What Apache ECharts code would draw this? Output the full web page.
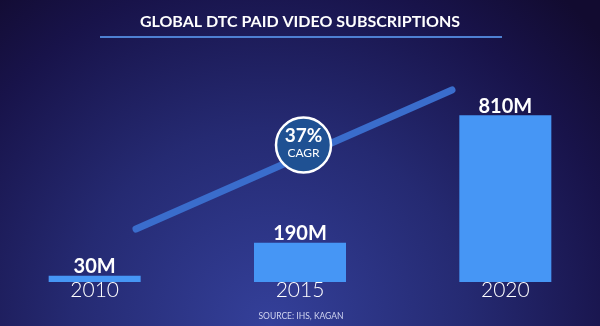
<!DOCTYPE html>
<html>
<head>
<meta charset="utf-8">
<script src="https://cdn.jsdelivr.net/npm/echarts@6/dist/echarts.min.js"></script>
<style>html,body{margin:0;padding:0;background:#130c30;}#c{width:600px;height:326px;}</style>
</head>
<body>
<div id="c"></div>
<script>
var titleText = 'GLOBAL DTC PAID VIDEO SUBSCRIPTIONS';
var categories = ['2010', '2015', '2020'];
var values = [30, 190, 810];
var valueLabels = ['30M', '190M', '810M'];
var cagrText = '37%';
var cagrSub = 'CAGR';
var sourceText = 'SOURCE: IHS, KAGAN';

var chart = echarts.init(document.getElementById('c'), null, {renderer: 'canvas'});
var FONT = 'Lato, "Noto Sans", sans-serif';
var option = {
  animation: false,
  backgroundColor: '#130c30',
  grid: {left: -8, width: 616, top: 76, bottom: 44, containLabel: false, outerBoundsMode: 'none'},
  xAxis: {
    type: 'category',
    data: categories,
    axisLine: {show: false},
    axisTick: {show: false},
    axisLabel: {color: '#ffffff', fontSize: 21, fontFamily: FONT, fontWeight: 300, margin: -2}
  },
  yAxis: {
    type: 'value', min: 0, max: 1000,
    show: false, splitLine: {show: false}
  },
  series: [{
    type: 'bar',
    data: values,
    barWidth: 92,
    itemStyle: {color: '#4696f5'},
    z: 5,
    label: {
      show: true, position: 'top', distance: -1,
      color: '#ffffff', fontSize: 20, fontWeight: 'bold', fontFamily: FONT,
      formatter: function (p) { return valueLabels[p.dataIndex]; }
    }
  }],
  graphic: [
    {type: 'rect', z: -100, silent: true, shape: {x: 0, y: 0, width: 600, height: 326},
     style: {fill: new echarts.graphic.RadialGradient(0.45, 1.0, 1.35, [
       {offset: 0, color: '#34409a'},
       {offset: 0.45, color: '#252a72'},
       {offset: 0.8, color: '#18134a'},
       {offset: 1, color: '#120b30'}
     ])}},
    {type: 'text', z: 10, silent: true, left: 'center', top: 14,
     style: {text: titleText, fill: '#ffffff', font: 'bold 16px ' + FONT}},
    {type: 'line', z: 10, silent: true, shape: {x1: 100, y1: 37, x2: 502, y2: 37},
     style: {stroke: '#4e80d2', lineWidth: 2}},
    {type: 'line', z: 8, silent: true, shape: {x1: 136, y1: 229, x2: 452, y2: 90},
     style: {stroke: '#3a6dcc', lineWidth: 7, lineCap: 'round'}},
    {type: 'circle', z: 12, silent: true, shape: {cx: 303.5, cy: 145, r: 27.5},
     style: {fill: '#1f5193', stroke: '#ffffff', lineWidth: 2.5}},
    {type: 'text', z: 13, silent: true, x: 303.5, y: 136,
     style: {text: cagrText, fill: '#ffffff', font: 'bold 19px ' + FONT, align: 'center', verticalAlign: 'middle'}},
    {type: 'text', z: 13, silent: true, x: 303.5, y: 153,
     style: {text: cagrSub, fill: '#ffffff', font: '12px ' + FONT, align: 'center', verticalAlign: 'middle'}},
    {type: 'text', z: 10, silent: true, x: 301, y: 316,
     style: {text: sourceText, fill: '#d0d4f0', font: '8.5px ' + FONT, align: 'center', verticalAlign: 'middle'}}
  ]
};
chart.setOption(option);
</script>
</body>
</html>
